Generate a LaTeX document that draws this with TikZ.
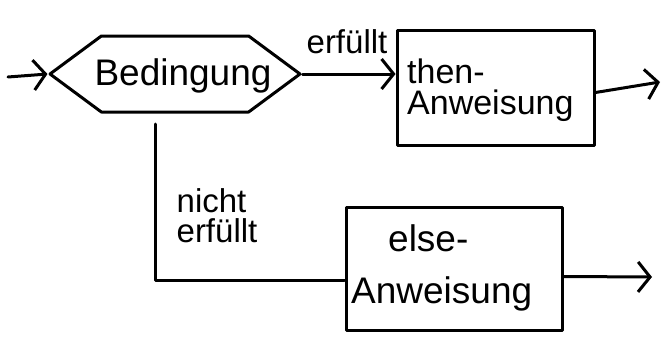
\documentclass[tikz,border=0pt]{standalone}
\usepackage{fontspec}
\setmainfont{Liberation Sans}
\usetikzlibrary{arrows.meta,shapes.symbols}
\tikzset{
  ln/.style={line width=3pt, line cap=round, line join=round},
  arr/.style={ln, -{Straight Barb[length=12pt,width=30pt,line width=3pt]}},
  bigtext/.style={font=\fontsize{34}{31}\selectfont, inner sep=0pt, align=left},
  box/.style={ln, draw, rectangle, inner sep=0pt},
}
\begin{document}
\begin{tikzpicture}[x=1pt,y=-1pt]
\useasboundingbox (0,0) rectangle (664,340);
% condition hexagon
\node[ln, draw, signal, signal to=west and east, signal pointer angle=73,
      minimum width=250pt, minimum height=76pt, inner sep=0pt] (cond) at (175,74) {};
\node[bigtext, font=\fontsize{37}{37}\selectfont] (condtxt) at (183,76) {Bedingung};
% then box
\node[box, minimum width=197pt, minimum height=115pt] (then) at (495.5,87.5) {};
\node[bigtext, anchor=west] (thentxt) at (407,90) {then-\\Anweisung};
% else box
\node[box, minimum width=216pt, minimum height=123pt] (else) at (454,268.5) {};
\node[bigtext, anchor=west, font=\fontsize{37}{52}\selectfont] (elsetxt) at (351,268) {\hspace{1.0em}else-\\Anweisung};
% coordinates for free ends
\coordinate (in) at (8,77);
\coordinate (thenout) at (660,82);
\coordinate (elseout) at (652,277);
\coordinate (down) at (155,124);
% connectors
\draw[arr] (in) -- (cond.west);
\draw[arr] (cond.east) -- (cond.east -| then.west);
\node[bigtext, font=\fontsize{33}{33}\selectfont] (yes) at (347,42) {erfüllt};
\draw[arr] ([yshift=-5pt]then.east) -- (thenout);
\draw[ln] (down) |- ([yshift=-12pt]else.west);
\node[bigtext, font=\fontsize{33}{30}\selectfont] (no) at (217,216) {nicht\\erfüllt};
\draw[arr] ([yshift=-8pt]else.east) -- (elseout);
\end{tikzpicture}
\end{document}
